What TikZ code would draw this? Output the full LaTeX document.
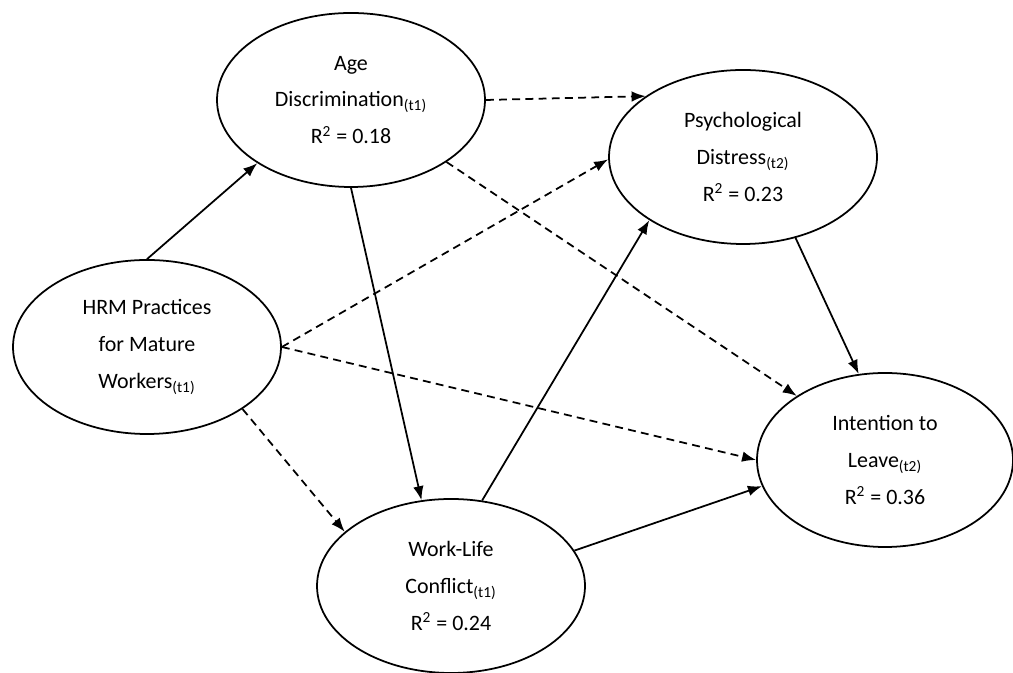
\documentclass[tikz,border=0pt]{standalone}
\usepackage{fontspec}
\setmainfont{Carlito}
\usetikzlibrary{shapes.geometric, arrows.meta}

\begin{document}
\begin{tikzpicture}[
  latent/.style={ellipse, draw, line width=1pt, minimum width=5.36cm, minimum height=3.48cm,
    inner sep=0pt, align=center, font=\fontsize{12.5}{21}\selectfont},
  >={Latex[length=8pt,width=6pt]},
  sol/.style={->, line width=1pt},
  dsh/.style={->, line width=1pt, dash pattern=on 4.5pt off 3pt}]
\useasboundingbox (0,0) rectangle (20.26,13.46);
\node[latent] (age) at (7.02,11.46) {Age\\Discrimination\textsubscript{(t1)}\\R\textsuperscript{2} = 0.18};
\node[latent] (hrm) at (2.94,6.52) {HRM Practices\\for Mature\\Workers\textsubscript{(t1)}};
\node[latent] (psy) at (14.86,10.32) {Psychological\\Distress\textsubscript{(t2)}\\R\textsuperscript{2} = 0.23};
\node[latent, minimum width=5.12cm] (itl) at (17.70,4.26) {Intention to\\Leave\textsubscript{(t2)}\\R\textsuperscript{2} = 0.36};
\node[latent] (wlc) at (9.02,1.74) {Work-Life\\Conflict\textsubscript{(t1)}\\R\textsuperscript{2} = 0.24};
\draw (hrm.north) edge[sol] (age.214)
      (age.south) edge[sol] (wlc.109)
      (hrm.327) edge[dsh] (wlc.153)
      (hrm.east) edge[dsh] (psy.181)
      (hrm.east) edge[dsh] (itl.west)
      (age.east) edge[dsh] (psy.148)
      (age.327) edge[dsh] (itl.144)
      (wlc.70) edge[sol] (psy.214)
      (wlc.16) edge[sol] (itl.192)
      (psy.303) edge[sol] (itl.107);
\end{tikzpicture}
\end{document}
